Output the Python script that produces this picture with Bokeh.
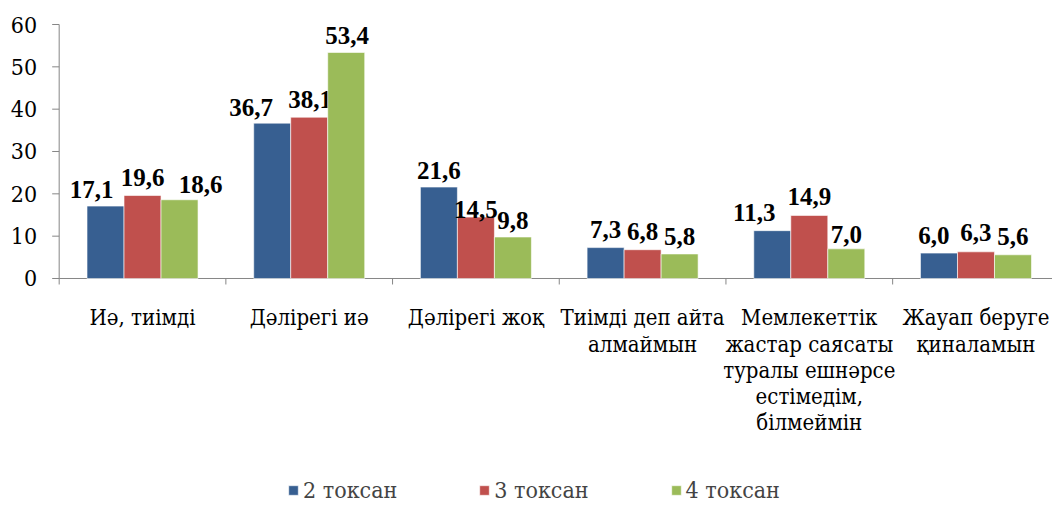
from bokeh.plotting import figure
from bokeh.models import Range1d, Legend, LegendItem, ColumnDataSource
from bokeh.core.properties import value
from bokeh.embed import file_html
from bokeh.resources import INLINE

categories = [
    "Иә, тиімді",
    "Дәлірегі иә",
    "Дәлірегі жоқ",
    "Тиімді деп айта\nалмаймын",
    "Мемлекеттік\nжастар саясаты\nтуралы ешнәрсе\nестімедім,\nбілмеймін",
    "Жауап беруге\nқиналамын",
]
series_names = ["2 токсан", "3 токсан", "4 токсан"]
q2 = [17.1, 36.7, 21.6, 7.3, 11.3, 6.0]
q3 = [19.6, 38.1, 14.5, 6.8, 14.9, 6.3]
q4 = [18.6, 53.4, 9.8, 5.8, 7.0, 5.6]
y_ticks = [0, 10, 20, 30, 40, 50, 60]

colors = ["#375F91", "#C0504D", "#9BBB59"]
AXIS_COLOR = "#868686"
# label nudges in screen px (style only)
label_dx = [[-14, -21, 0, 0, -18, -5], [0, 1, 0, 0, 0, 0], [21, 1, 0, 0, 0, 0]]
label_gap = [[17, 16, 17, 18, 18, 18], [18, 18, 8, 18, 19, 19], [15, 17, 17, 17, 14, 18]]

BOLD_FONT = "Liberation Serif"
SERIF = "DejaVu Serif Condensed, DejaVu Serif"
bar_w = 0.222

W, H = 1052, 506
x0, x1 = -0.352, 5.959
y0, y1 = -53.86, 65.67
px_x = W / (x1 - x0)
px_y = H / (y1 - y0)

p = figure(width=W, height=H, output_backend="svg", toolbar_location=None,
           x_range=Range1d(x0, x1), y_range=Range1d(y0, y1),
           x_axis_location=None, y_axis_location=None, min_border=0)
p.outline_line_color = None
p.grid.visible = False
p.background_fill_color = "white"
p.border_fill_color = "white"

n = len(categories)
# axes lines and ticks
p.segment(x0=[0, 0], y0=[0, 0], x1=[0, x1], y1=[60, 0], line_color=AXIS_COLOR, line_width=1)
p.segment(x0=[0] * len(y_ticks), y0=y_ticks, x1=[-7 / px_x] * len(y_ticks), y1=y_ticks,
          line_color=AXIS_COLOR, line_width=1)
p.segment(x0=list(range(n + 1)), y0=[0] * (n + 1), x1=list(range(n + 1)), y1=[-6 / px_y] * (n + 1),
          line_color=AXIS_COLOR, line_width=1)
p.text(x=[0] * len(y_ticks), y=y_ticks, text=[str(t) for t in y_ticks], x_offset=-22,
       text_align="right", text_baseline="middle", text_font=value(SERIF),
       text_font_size="23px", text_color="black")
p.text(x=[i + 0.5 for i in range(n)], y=[0] * n, text=categories, y_offset=27,
       text_align="center", text_baseline="top", text_font=value(SERIF),
       text_font_size="22px", text_line_height=1.05, text_color="black")

items = []
for k, (name, vals) in enumerate(zip(series_names, [q2, q3, q4])):
    xs = [i + 0.5 + (k - 1) * bar_w for i in range(n)]
    src = ColumnDataSource(dict(
        x=xs, top=vals,
        lab=[f"{v:.1f}".replace(".", ",") for v in vals],
        dx=label_dx[k], dy=[-g for g in label_gap[k]],
    ))
    r = p.vbar(x="x", top="top", bottom=0, width=bar_w, source=src, fill_color=colors[k],
               line_color="white", line_width=0.6)
    p.text(x="x", y="top", text="lab", source=src, x_offset="dx", y_offset="dy",
           text_align="center", text_baseline="alphabetic",
           text_font=value(BOLD_FONT), text_font_style="bold",
           text_font_size="25px", text_color="black")
    items.append(LegendItem(label=name, renderers=[r]))

legend = Legend(items=items, location=(287, 3), orientation="horizontal",
                glyph_width=12, glyph_height=12, label_standoff=4, spacing=81,
                padding=0, margin=0, border_line_color=None, background_fill_alpha=0,
                label_text_font=SERIF, label_text_font_size="23px")
p.add_layout(legend)

open("out.html", "w").write(file_html(p, INLINE))
